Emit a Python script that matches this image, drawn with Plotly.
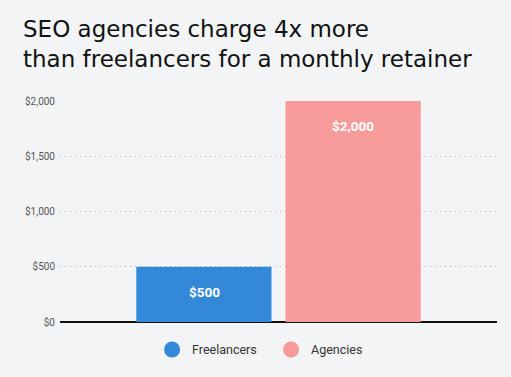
import plotly.graph_objects as go

categories = ["Freelancers", "Agencies"]
values = [500, 2000]
labels = ["$500", "$2,000"]
colors = ["#3389D7", "#F79A9A"]
tick_vals = [0, 500, 1000, 1500, 2000]
tick_text = ["$0", "$500", "$1,000", "$1,500", "$2,000"]

BG = "#F3F4F6"

fig = go.Figure()
for name, v, c, t in zip(categories, values, colors, labels):
    fig.add_trace(go.Bar(x=["Retainer"], y=[v], name=name, marker=dict(color=c, line=dict(width=0)),
                         showlegend=False, offsetgroup=name, hoverinfo="skip"))
    fig.add_trace(go.Scatter(x=[None], y=[None], mode="markers", name=name,
                             marker=dict(color=c, size=19, symbol="circle")))

fig.update_layout(
    barmode="group",
    bargap=0.317,
    bargroupgap=0.094,
    width=511, height=377,
    paper_bgcolor=BG, plot_bgcolor=BG,
    margin=dict(l=60, r=14, t=101, b=52),
    title=dict(text="SEO agencies charge 4x more<br>than freelancers for a monthly retainer",
               x=23/511, xanchor="left", xref="container",
               y=1-37/377, yanchor="middle", yref="container",
               font=dict(family="DejaVu Sans", size=23, color="#111111")),
    legend=dict(orientation="h", x=0.483, xanchor="center", xref="paper",
                y=-0.126, yanchor="middle", yref="paper",
                font=dict(family="Roboto", size=12.5, color="#333333"),
                itemwidth=30, entrywidth=74, entrywidthmode="pixels",
                bgcolor="rgba(0,0,0,0)"),
    xaxis=dict(showticklabels=False, showgrid=False, zeroline=False, showline=False),
    yaxis=dict(range=[0, 2000], tickvals=tick_vals, ticktext=tick_text,
               showgrid=True, gridcolor="#B3B6BB", griddash="1px,4px", gridwidth=1,
               zeroline=True, zerolinecolor="#111111", zerolinewidth=1.5,
               tickfont=dict(family="Roboto", size=10, color="#555555"),
               ticks="", ticklabelstandoff=4, fixedrange=True),
    font=dict(family="Roboto"),
)

n = len(categories)
for i, (v, t) in enumerate(zip(values, labels)):
    fig.add_annotation(x=0, y=v, xref="x", yref="y", text="<b>%s</b>" % t, showarrow=False,
                       yshift=-25, xshift=(i - (n - 1) / 2) * 149,
                       font=dict(family="Roboto", size=13.5, color="white"))

fig.write_html(
    "out.html",
    config={"displayModeBar": False},
    post_script="document.body.style.margin='0';document.body.style.background='%s';" % BG,
)
